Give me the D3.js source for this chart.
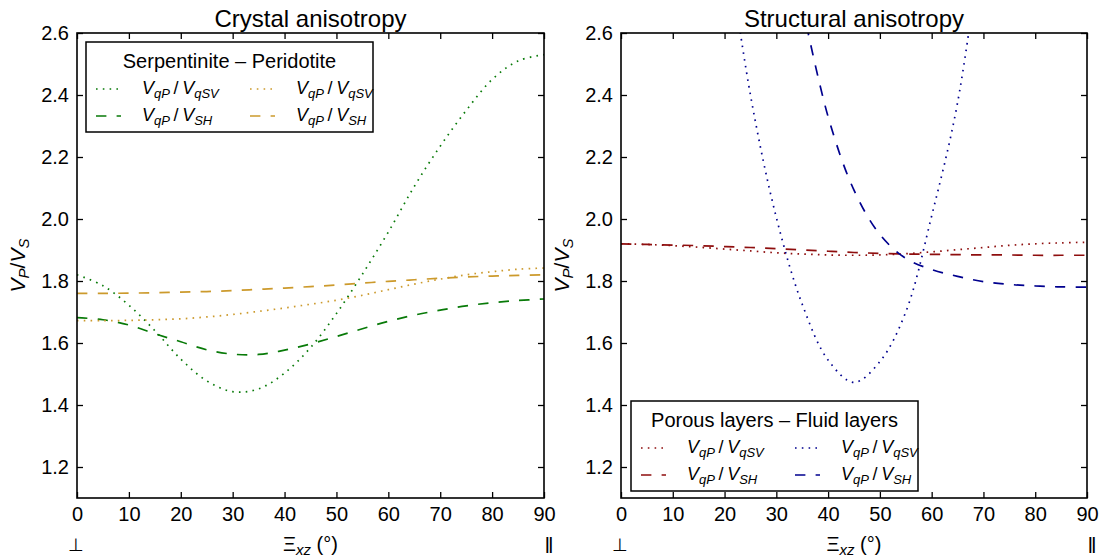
<!DOCTYPE html>
<html><head><meta charset="utf-8">
<script src="https://cdn.jsdelivr.net/npm/d3@7"></script>
<style>
body{margin:0;background:#fff}
svg{display:block}
text{font-family:"Liberation Sans",Arial,Helvetica,sans-serif;fill:#000}
</style>
</head><body>
<svg id="c" width="1102" height="558"></svg>
<script>
// ---------- data ----------
const angles = [0,5,10,15,20,25,30,35,40,45,50,55,60,65,70,75,80,85,90];
const serpSV = [1.82,1.785,1.722,1.64,1.548,1.478,1.443,1.452,1.503,1.585,1.695,1.822,1.958,2.105,2.235,2.35,2.45,2.51,2.53];
const serpSH = [1.682,1.675,1.658,1.63,1.604,1.578,1.564,1.563,1.577,1.597,1.621,1.646,1.67,1.69,1.706,1.72,1.73,1.737,1.742];
const periSV = [1.672,1.672,1.673,1.675,1.678,1.684,1.692,1.702,1.713,1.725,1.738,1.754,1.772,1.79,1.806,1.82,1.83,1.838,1.842];
const periSH = [1.76,1.76,1.761,1.762,1.764,1.766,1.769,1.773,1.777,1.782,1.787,1.793,1.799,1.804,1.809,1.813,1.816,1.818,1.82];
const porousSV = [1.92,1.918,1.914,1.909,1.903,1.897,1.891,1.887,1.884,1.883,1.884,1.888,1.894,1.901,1.908,1.915,1.92,1.923,1.925];
const porousSH = [1.92,1.918,1.916,1.914,1.911,1.908,1.904,1.9,1.896,1.892,1.889,1.887,1.886,1.885,1.884,1.884,1.883,1.883,1.883];
const fluidSVAngles = [20,25,30,35,40,45,50,55,60,65,70];
const fluidSV = [2.95,2.40,2.005,1.725,1.545,1.473,1.54,1.70,2.01,2.375,2.95];
const fluidSHAngles = [35,40,45,50,55,60,65,70,75,80,85,90];
const fluidSH = [2.69,2.33,2.093,1.95,1.873,1.837,1.815,1.798,1.789,1.784,1.781,1.78];

const xTicks = [0,10,20,30,40,50,60,70,80,90];
const yTicks = [1.2,1.4,1.6,1.8,2.0,2.2,2.4,2.6];
const titles = ["Crystal anisotropy","Structural anisotropy"];
const legendTitles = ["Serpentinite \u2013 Peridotite","Porous layers \u2013 Fluid layers"];
const svLabelSub = ["qP","qSV"];
const shLabelSub = ["qP","SH"];

// ---------- styles ----------
const GREEN = "#087a08", GOLD = "#cc9a2c", RED = "#8e0e0e", BLUE = "#00008e";
const DOT = "1.6,5.2", DASH = "10.4,10.2", LW = 1.7;

const svg = d3.select("#c");
const yTop = 33, yBot = 498;

const panels = [
  {x0:77, x1:544, title:titles[0], legendTitle:legendTitles[0], legend:{x:86,y:42},
   series:[
     {xs:angles, ys:serpSV, color:GREEN, dash:DOT},
     {xs:angles, ys:serpSH, color:GREEN, dash:DASH},
     {xs:angles, ys:periSV, color:GOLD, dash:DOT},
     {xs:angles, ys:periSH, color:GOLD, dash:DASH}]},
  {x0:621, x1:1087, title:titles[1], legendTitle:legendTitles[1], legend:{x:631,y:401},
   series:[
     {xs:angles, ys:porousSV, color:RED, dash:DOT},
     {xs:angles, ys:porousSH, color:RED, dash:DASH},
     {xs:fluidSVAngles, ys:fluidSV, color:BLUE, dash:DOT},
     {xs:fluidSHAngles, ys:fluidSH, color:BLUE, dash:DASH}]}
];

function ratioLabel(sel, big, small, subs, dy){
  sel.append("tspan").attr("font-style","italic").attr("font-size",big).text("V");
  sel.append("tspan").attr("font-style","italic").attr("font-size",small).attr("dy",dy).text(subs[0]);
  sel.append("tspan").attr("font-size",big).attr("dy",-dy).text("\u2009/\u2009");
  sel.append("tspan").attr("font-style","italic").attr("font-size",big).text("V");
  sel.append("tspan").attr("font-style","italic").attr("font-size",small).attr("dy",dy).text(subs[1]);
}

panels.forEach((p,i)=>{
  const x = d3.scaleLinear().domain([0,90]).range([p.x0,p.x1]);
  const y = d3.scaleLinear().domain([1.1,2.6]).range([yBot,yTop]);
  const g = svg.append("g");

  const clipId = "clip"+i;
  svg.append("defs").append("clipPath").attr("id",clipId)
    .append("rect").attr("x",p.x0).attr("y",yTop).attr("width",p.x1-p.x0).attr("height",yBot-yTop);

  const line = d3.line().x((d)=>x(d[0])).y((d)=>y(d[1])).curve(d3.curveCatmullRom.alpha(0.5));
  const lg = g.append("g").attr("clip-path",`url(#${clipId})`);
  p.series.forEach(s=>{
    lg.append("path").datum(s.xs.map((a,k)=>[a,s.ys[k]]))
      .attr("d",line).attr("fill","none").attr("stroke",s.color)
      .attr("stroke-width",LW).attr("stroke-dasharray",s.dash);
  });

  const ax = (gen, tr) => {
    const a = g.append("g").attr("transform",tr).call(gen);
    a.select(".domain").remove();
    a.selectAll(".tick line").attr("stroke","#000").attr("stroke-width",1.3);
    a.selectAll("text").attr("font-size",20).attr("fill","#000")
      .attr("font-family",'"Liberation Sans",Arial,sans-serif');
    return a;
  };
  ax(d3.axisBottom(x).tickValues(xTicks).tickSize(-6).tickPadding(9).tickFormat(d3.format("d")), `translate(0,${yBot})`);
  ax(d3.axisTop(x).tickValues(xTicks).tickSize(-6).tickFormat(""), `translate(0,${yTop})`);
  ax(d3.axisLeft(y).tickValues(yTicks).tickSize(-6).tickPadding(8).tickFormat(d3.format(".1f")), `translate(${p.x0},0)`);
  ax(d3.axisRight(y).tickValues(yTicks).tickSize(-6).tickFormat(""), `translate(${p.x1},0)`);

  g.append("rect").attr("x",p.x0).attr("y",yTop).attr("width",p.x1-p.x0).attr("height",yBot-yTop)
    .attr("fill","none").attr("stroke","#000").attr("stroke-width",1.6);

  const cx = (p.x0+p.x1)/2;
  g.append("text").attr("x",cx).attr("y",27).attr("text-anchor","middle").attr("font-size",24).text(p.title);

  const xl = g.append("text").attr("x",cx).attr("y",551).attr("text-anchor","middle").attr("font-size",20);
  xl.append("tspan").text("\u039E");
  xl.append("tspan").attr("font-style","italic").attr("font-size",15).attr("dy",4).text("xz");
  xl.append("tspan").attr("dy",-4).text(" (\u00B0)");
  g.append("text").attr("x",p.x0-1).attr("y",551).attr("text-anchor","middle")
    .attr("font-family","DejaVu Sans").attr("font-size",18).text("\u22A5");
  g.append("text").attr("x",p.x1+5).attr("y",553).attr("text-anchor","middle")
    .attr("font-family","DejaVu Sans").attr("font-size",22).text("\u2016");

  const yl = g.append("text").attr("transform",`translate(${p.x0-52},${(yTop+yBot)/2}) rotate(-90)`)
    .attr("text-anchor","middle");
  yl.append("tspan").attr("font-style","italic").attr("font-size",21).text("V");
  yl.append("tspan").attr("font-style","italic").attr("font-size",15).attr("dy",4).text("P");
  yl.append("tspan").attr("font-size",21).attr("dy",-4).text("/");
  yl.append("tspan").attr("font-style","italic").attr("font-size",21).text("V");
  yl.append("tspan").attr("font-style","italic").attr("font-size",15).attr("dy",4).text("S");

  const L = p.legend, W = 287, H = 90;
  const lgd = g.append("g").attr("transform",`translate(${L.x},${L.y})`);
  lgd.append("rect").attr("width",W).attr("height",H).attr("fill","#fff").attr("stroke","#000").attr("stroke-width",1.5);
  lgd.append("text").attr("x",W/2).attr("y",26).attr("text-anchor","middle").attr("font-size",20).text(p.legendTitle);
  const cols = [{hx:10, tx:56},{hx:164, tx:210}];
  const rows = [47, 74];
  p.series.forEach((s,k)=>{
    const c = cols[Math.floor(k/2)], r = rows[k%2];
    lgd.append("line").attr("x1",c.hx).attr("x2",c.hx+25).attr("y1",r).attr("y2",r)
      .attr("stroke",s.color).attr("stroke-width",LW).attr("stroke-dasharray",s.dash);
    const t = lgd.append("text").attr("x",c.tx).attr("y",r+5);
    ratioLabel(t, 18, 13, k%2===0 ? svLabelSub : shLabelSub, 4);
  });
});
</script>
</body></html>
